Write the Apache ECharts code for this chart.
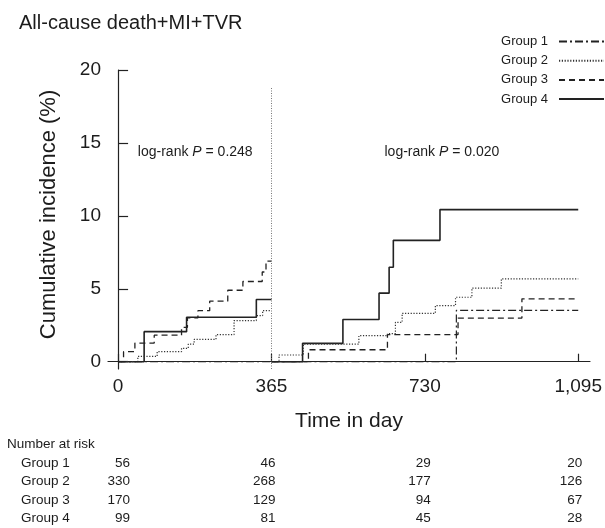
<!DOCTYPE html>
<html>
<head>
<meta charset="utf-8">
<script src="https://cdn.jsdelivr.net/npm/echarts@6/dist/echarts.min.js"></script>
<style>
html,body{margin:0;padding:0;background:#fff;}
#main{width:605px;height:528px;}
</style>
</head>
<body>
<div id="main"></div>
<script>
// ---- data ----
var groupNames = ['Group 1', 'Group 2', 'Group 3', 'Group 4'];
var xTicks = [0, 365, 730, 1095];
var yTicks = [0, 5, 10, 15, 20];
// [day, cumulative incidence %] – first landmark period (0–365)
var g1First = [[0,0],[365,0]];
var g2First = [[0,0],[47,0.36],[93,0.69],[151,0.92],[167,1.21],[181,1.53],[233,1.86],[276,2.82],[329,3.16],[344,3.5],[365,3.5]];
var g3First = [[0,0],[13,0.69],[40,1.28],[86,1.82],[151,2.36],[165,3.0],[190,3.5],[218,4.15],[261,4.9],[297,5.5],[343,6.15],[352,6.9],[365,6.9]];
var g4First = [[0,0],[62,2.06],[163,3.05],[329,4.26],[365,4.26]];
// second landmark period (365–1095)
var g1Second = [[365,0],[805,3.52],[1095,3.52]];
var g2Second = [[365,0],[383,0.46],[441,1.21],[573,1.79],[641,1.93],[660,2.7],[676,3.32],[755,3.85],[803,4.42],[842,5.04],[912,5.68],[1095,5.68]];
var g3Second = [[365,0],[453,0.82],[641,1.86],[809,2.99],[961,4.31],[1095,4.31]];
var g4Second = [[365,0],[439,1.26],[535,2.89],[621,4.7],[645,6.48],[655,8.32],[766,10.43],[1095,10.43]];
// number at risk at 0, 365, 730, 1095
var riskG1 = [56, 46, 29, 20];
var riskG2 = [330, 268, 177, 126];
var riskG3 = [170, 129, 94, 67];
var riskG4 = [99, 81, 45, 28];
var pFirst = '0.248';
var pSecond = '0.020';

// ---- styles ----
var FONT = '"Liberation Sans", Arial, sans-serif';
var INK = '#1c1c1c';
var lineStyles = [
  {color: '#222', width: 1.2, type: [8, 3, 2, 3]},
  {color: '#333', width: 1.2, type: [1.2, 1.6]},
  {color: '#222', width: 1.3, type: [6, 4]},
  {color: '#222', width: 1.6, type: 'solid'}
];
var firsts = [g1First, g2First, g3First, g4First];
var seconds = [g1Second, g2Second, g3Second, g4Second];
var risks = [riskG1, riskG2, riskG3, riskG4];

var series = [];
for (var i = 0; i < 4; i++) {
  [firsts[i], seconds[i]].forEach(function (d) {
    series.push({
      name: groupNames[i], type: 'line', step: 'end', data: d,
      symbol: 'none', lineStyle: lineStyles[i], itemStyle: {color: lineStyles[i].color},
      silent: true, animation: false, z: 5 - i
    });
  });
}
series[0].markLine = {
  silent: true, symbol: 'none', animation: false,
  label: {show: false},
  lineStyle: {color: '#777', width: 1, type: [1, 1.5]},
  data: [[{coord: [365, -0.5]}, {coord: [365, 18.8]}]]
};

var chart = echarts.init(document.getElementById('main'), null, {renderer: 'canvas'});
var option = {
  backgroundColor: '#fff',
  animation: false,
  textStyle: {fontFamily: FONT, color: INK},
  title: {
    text: 'All-cause death+MI+TVR', left: 19, top: 13, padding: 0,
    textStyle: {fontFamily: FONT, fontSize: 20, fontWeight: 'normal', color: INK}
  },
  legend: {
    data: groupNames, orient: 'vertical', align: 'right', right: 0, top: 35, padding: 0,
    itemWidth: 45, itemHeight: 14, itemGap: 6.2,
    selectedMode: false,
    itemStyle: {opacity: 0},
    textStyle: {fontFamily: FONT, fontSize: 13, color: INK, padding: [0, 6, 0, 0]}
  },
  grid: {left: 108, right: 13, top: 70, bottom: 159, containLabel: false},
  xAxis: {
    type: 'value', min: -24, max: 1123,
    name: 'Time in day', nameLocation: 'middle', nameGap: 42,
    nameTextStyle: {fontFamily: FONT, fontSize: 21, color: INK},
    axisLine: {show: true, lineStyle: {color: '#222', width: 1.2}},
    axisTick: {show: true, inside: true, length: 8, customValues: xTicks, lineStyle: {color: '#222', width: 1.2}},
    axisLabel: {
      customValues: xTicks, margin: 8, fontFamily: FONT, fontSize: 19, color: INK,
      formatter: function (v) { return v.toLocaleString('en-US'); }
    },
    splitLine: {show: false}
  },
  yAxis: {
    type: 'value', min: -0.5, max: 20,
    name: 'Cumulative incidence (%)', nameLocation: 'middle', nameGap: 48,
    nameTextStyle: {fontFamily: FONT, fontSize: 22, color: INK, padding: [0, 0, 0, 10]},
    axisLine: {show: true, lineStyle: {color: '#222', width: 1.2}},
    axisTick: {show: true, inside: true, length: 10, customValues: yTicks, lineStyle: {color: '#222', width: 1.2}},
    axisLabel: {customValues: yTicks, margin: 7, fontFamily: FONT, fontSize: 19, color: INK},
    splitLine: {show: false}
  },
  series: series
};
chart.setOption(option);

// ---- annotations and risk table ----
function px(day) { return chart.convertToPixel({xAxisIndex: 0}, day); }
function py(v) { return chart.convertToPixel({yAxisIndex: 0}, v); }
var graphics = [];
function pText(x, y, p) {
  return {
    type: 'text', x: x, y: y, silent: true,
    style: {
      text: '{n|log-rank }{i|P}{n| = ' + p + '}',
      fontFamily: FONT, fontSize: 14, fill: INK, verticalAlign: 'middle',
      rich: {n: {fontFamily: FONT, fontSize: 14, color: INK}, i: {fontFamily: FONT, fontSize: 14, fontStyle: 'italic', color: INK}}
    }
  };
}
graphics.push(pText(px(47), py(14.4), pFirst));
graphics.push(pText(px(634), py(14.4), pSecond));
var TF = 13.5;
graphics.push({type: 'text', x: 7, y: 444, silent: true,
  style: {text: 'Number at risk', fontFamily: FONT, fontSize: TF, fill: INK, verticalAlign: 'middle'}});
var rowY = [463, 481.5, 500, 518];
var colOffset = [12, 4, 6, 4];
for (var r = 0; r < 4; r++) {
  graphics.push({type: 'text', x: 21, y: rowY[r], silent: true,
    style: {text: groupNames[r], fontFamily: FONT, fontSize: TF, fill: INK, verticalAlign: 'middle'}});
  for (var c = 0; c < 4; c++) {
    graphics.push({type: 'text', x: px(xTicks[c]) + colOffset[c], y: rowY[r], silent: true,
      style: {text: String(risks[r][c]), fontFamily: FONT, fontSize: TF, fill: INK, align: 'right', verticalAlign: 'middle'}});
  }
}
chart.setOption({graphic: graphics});
</script>
</body>
</html>
